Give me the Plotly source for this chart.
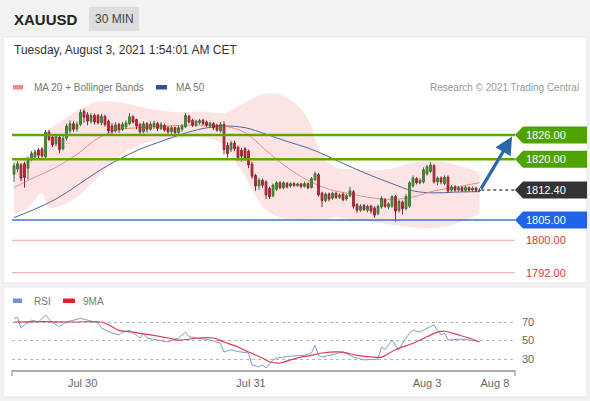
import plotly.graph_objects as go

W, H = 590, 401

# ---------------- DATA ----------------
candle_idx = list(range(134))
opens = [1816.3, 1817.6, 1818.6, 1818.9, 1817.8, 1820.0, 1820.6, 1822.3, 1822.5, 1820.6,
         1826.7, 1825.5, 1823.8, 1825.5, 1822.6, 1825.2, 1827.0, 1828.8, 1827.5, 1828.6,
         1831.8, 1831.0, 1829.4, 1830.9, 1830.8, 1829.0, 1830.6, 1829.4, 1828.2, 1827.0,
         1828.6, 1827.4, 1828.0, 1828.8, 1830.5, 1829.8, 1828.6, 1826.8, 1828.8, 1827.4,
         1828.0, 1828.8, 1827.6, 1828.4, 1827.8, 1826.8, 1827.8, 1826.6, 1827.4, 1828.0,
         1830.6, 1829.6, 1828.4, 1829.0, 1829.6, 1829.2, 1828.2, 1828.8, 1828.4, 1827.0,
         1828.6, 1823.4, 1822.4, 1824.0, 1823.0, 1822.2, 1822.6, 1822.0, 1818.8, 1816.0,
         1813.4, 1814.8, 1814.4, 1812.8, 1811.0, 1812.6, 1814.2, 1813.0, 1814.0, 1813.4,
         1814.0, 1813.5, 1813.9, 1813.3, 1814.0, 1813.0, 1815.0, 1816.2, 1811.6, 1809.8,
         1811.4, 1810.4, 1811.6, 1810.6, 1811.4, 1810.2, 1811.0, 1812.0, 1808.8, 1807.4,
         1808.6, 1807.4, 1808.4, 1808.0, 1806.6, 1808.2, 1810.0, 1808.2, 1808.4, 1810.8,
         1807.4, 1809.4, 1807.8, 1808.4, 1813.4, 1815.2, 1814.2, 1814.4, 1816.4, 1817.0,
         1818.4, 1814.4, 1815.4, 1814.0, 1815.6, 1812.4, 1813.2, 1812.4, 1813.0, 1812.3,
         1813.0, 1812.4, 1812.9, 1812.2]
highs = [1819.2, 1819.5, 1819.1, 1819.4, 1820.6, 1822.0, 1822.4, 1822.8, 1823.0, 1827.2,
         1827.3, 1826.0, 1826.2, 1826.0, 1825.8, 1828.8, 1829.6, 1829.4, 1829.3, 1832.3,
         1832.4, 1831.6, 1831.4, 1831.3, 1831.2, 1831.2, 1831.0, 1829.8, 1829.0, 1829.2,
         1829.0, 1829.2, 1829.6, 1831.4, 1830.9, 1830.0, 1829.0, 1829.4, 1829.2, 1829.3,
         1829.5, 1829.2, 1829.2, 1828.8, 1828.2, 1828.3, 1828.1, 1828.3, 1828.7, 1831.4,
         1831.0, 1830.0, 1829.8, 1830.0, 1830.0, 1829.6, 1829.3, 1829.2, 1828.8, 1829.2,
         1829.4, 1824.2, 1824.6, 1824.6, 1823.4, 1822.8, 1823.0, 1822.4, 1819.4, 1816.4,
         1815.4, 1815.2, 1814.8, 1813.2, 1814.0, 1814.6, 1814.6, 1814.6, 1814.4, 1814.3,
         1814.3, 1814.2, 1814.2, 1814.5, 1814.3, 1815.6, 1817.0, 1816.6, 1812.0, 1811.8,
         1811.8, 1812.0, 1812.0, 1811.6, 1811.8, 1811.4, 1813.2, 1812.4, 1809.2, 1808.9,
         1809.0, 1808.8, 1808.8, 1808.4, 1808.8, 1810.9, 1810.4, 1809.4, 1811.2, 1811.2,
         1810.0, 1809.8, 1811.4, 1814.6, 1816.0, 1815.6, 1815.4, 1818.0, 1818.6, 1819.3,
         1818.8, 1815.8, 1815.8, 1816.0, 1816.0, 1813.6, 1813.6, 1813.4, 1813.4, 1813.5,
         1813.3, 1813.3, 1813.2, 1812.9]
lows = [1814.4, 1816.8, 1814.6, 1813.0, 1815.0, 1819.5, 1820.0, 1820.2, 1820.4, 1820.0,
        1824.5, 1823.0, 1823.2, 1821.6, 1822.2, 1824.6, 1826.4, 1826.8, 1826.8, 1828.2,
        1829.0, 1828.4, 1828.8, 1828.6, 1828.6, 1828.4, 1828.0, 1826.4, 1826.2, 1826.6,
        1826.5, 1827.0, 1827.4, 1828.4, 1828.8, 1827.4, 1826.2, 1826.4, 1826.6, 1827.0,
        1827.5, 1827.0, 1827.2, 1826.8, 1826.2, 1826.3, 1826.0, 1826.2, 1826.8, 1827.8,
        1828.8, 1828.0, 1828.0, 1828.6, 1828.4, 1828.0, 1827.8, 1827.2, 1826.8, 1826.6,
        1821.2, 1820.4, 1821.8, 1822.0, 1819.6, 1819.4, 1819.6, 1817.8, 1815.2, 1812.2,
        1812.4, 1813.0, 1810.2, 1810.2, 1810.6, 1812.2, 1812.6, 1812.6, 1812.8, 1813.0,
        1813.2, 1813.2, 1812.8, 1813.0, 1812.6, 1812.8, 1814.6, 1810.8, 1808.2, 1809.4,
        1809.6, 1810.0, 1810.2, 1810.2, 1809.6, 1809.8, 1810.6, 1807.8, 1806.8, 1807.0,
        1807.2, 1806.9, 1806.6, 1805.6, 1806.2, 1807.8, 1808.0, 1807.6, 1808.0, 1804.6,
        1806.8, 1806.4, 1807.4, 1808.0, 1813.0, 1813.8, 1813.8, 1814.0, 1816.0, 1816.6,
        1814.0, 1813.6, 1813.8, 1813.6, 1811.8, 1812.0, 1812.0, 1812.0, 1811.9, 1812.0,
        1812.0, 1812.0, 1811.9, 1811.9]
closes = [1818.4, 1818.9, 1815.3, 1815.5, 1820.0, 1821.5, 1821.8, 1821.0, 1820.8, 1826.7,
          1824.9, 1823.6, 1825.6, 1822.4, 1825.2, 1828.2, 1828.8, 1827.4, 1828.6, 1831.6,
          1830.4, 1829.4, 1830.8, 1829.2, 1829.0, 1830.6, 1828.6, 1827.0, 1826.9, 1828.5,
          1827.4, 1828.6, 1829.0, 1830.5, 1829.2, 1828.2, 1826.8, 1828.8, 1827.4, 1828.7,
          1828.9, 1827.6, 1828.6, 1827.2, 1826.8, 1827.8, 1826.6, 1827.8, 1828.2, 1830.8,
          1829.2, 1828.4, 1829.4, 1829.6, 1828.8, 1828.4, 1828.9, 1827.8, 1827.2, 1828.6,
          1822.4, 1821.4, 1824.0, 1822.6, 1820.4, 1820.8, 1820.2, 1818.6, 1815.8, 1813.4,
          1814.8, 1813.6, 1811.2, 1810.8, 1813.6, 1814.2, 1813.0, 1814.2, 1813.2, 1814.0,
          1813.5, 1813.9, 1813.3, 1814.0, 1813.0, 1815.2, 1816.4, 1811.2, 1809.8, 1811.4,
          1810.2, 1811.6, 1810.6, 1811.2, 1810.0, 1811.0, 1812.2, 1808.4, 1807.4, 1808.4,
          1807.6, 1808.4, 1807.2, 1806.2, 1808.4, 1810.4, 1808.4, 1809.0, 1810.8, 1807.2,
          1809.6, 1807.8, 1810.8, 1814.2, 1815.4, 1814.2, 1814.8, 1817.4, 1818.2, 1818.6,
          1814.4, 1815.4, 1814.4, 1815.6, 1812.2, 1813.2, 1812.4, 1813.0, 1812.3, 1813.1,
          1812.4, 1812.9, 1812.3, 1812.4]

ma_idx = [0, 6, 12, 18, 24, 30, 36, 42, 48, 54, 60, 66, 72, 78, 84, 90, 96, 102, 108, 114, 120, 126, 133]
ma20 = [1813.0, 1815.6, 1818.0, 1821.2, 1825.2, 1827.3, 1827.8, 1828.1, 1828.4, 1828.4, 1828.2, 1826.6,
        1822.2, 1818.0, 1814.8, 1812.6, 1811.5, 1810.5, 1810.1, 1810.7, 1812.2, 1813.1, 1814.2]
ma50 = [1805.6, 1807.7, 1810.2, 1813.5, 1817.0, 1820.0, 1822.5, 1824.4, 1826.2, 1827.6, 1828.2, 1827.8,
        1826.2, 1824.4, 1822.8, 1820.6, 1818.2, 1816.0, 1814.0, 1812.2, 1811.7, 1811.9, 1812.0]

bb_idx = [0, 4, 8, 10, 14, 18, 24, 30, 36, 42, 48, 54, 60, 63, 66, 69, 72, 76, 80, 84, 88, 92, 96,
          102, 108, 114, 120, 126, 133]
bb_upper = [1820.2, 1821.0, 1822.6, 1827.4, 1829.6, 1832.0, 1834.2, 1834.0, 1833.0, 1832.0, 1831.6,
            1831.8, 1831.4, 1832.6, 1834.0, 1835.4, 1836.2, 1836.0, 1834.0, 1830.0, 1821.0, 1818.0,
            1817.6, 1817.2, 1817.8, 1819.2, 1819.6, 1818.8, 1816.8]
bb_lower = [1806.4, 1808.0, 1811.6, 1808.0, 1808.8, 1810.6, 1815.6, 1820.6, 1823.6, 1824.8, 1825.2,
            1825.4, 1823.6, 1819.6, 1816.0, 1811.0, 1807.4, 1805.6, 1805.0, 1805.0, 1805.2, 1805.6,
            1805.2, 1804.6, 1803.8, 1803.2, 1803.0, 1804.0, 1806.4]

rsi_idx = [0, 1, 2, 3, 5, 7, 9, 11, 13, 15, 19, 24, 25, 28, 30, 31, 33, 35, 36, 37, 38, 41, 44, 47,
           49, 50, 56, 59, 60, 62, 64, 67, 68, 70, 71, 72, 74, 75, 79, 83, 85, 86, 87, 88, 94, 97,
           98, 100, 104, 105, 106, 108, 109, 110, 111, 113, 114, 116, 119, 120, 121, 122, 123, 124,
           128, 133]
rsi = [74, 75, 63.5, 67, 72, 70, 77.5, 69, 65, 70, 74, 69, 63.5, 58, 56, 59, 61, 56, 52.7, 58, 52.7,
       50.5, 48.4, 52.7, 59, 54, 50.5, 47, 37.5, 40, 38, 36.5, 23.5, 21.5, 23.5, 20.3, 29, 31, 33, 34,
       36.5, 45, 34, 32, 37.6, 32, 31, 29, 30, 43, 40, 50.5, 45, 40, 47, 58, 61, 59, 65, 67, 61, 56,
       58, 50.5, 51.6, 49]
ma9_idx = [0, 9, 17, 25, 27, 30, 34, 39, 44, 47, 53, 57, 60, 64, 67, 71, 73, 76, 79, 82, 85, 88,
           93, 98, 103, 105, 109, 114, 118, 121, 123, 127, 130, 133]
rsi_ma9 = [70, 70.5, 70, 70, 67, 61, 59, 56, 52.7, 50.5, 52.7, 52.7, 48.4, 43, 37.6, 31, 27, 25.7,
           29, 32, 34, 36.5, 37.6, 34, 32, 32, 40, 47, 54, 59, 60, 56, 52.7, 48.4]

tick_pos = [19.6, 67.7, 118, 137.4]
tick_text = ["Jul 30", "Jul 31", "Aug 3", "Aug 8"]

levels_box = [1826.00, 1820.00, 1805.00]
levels_box_colors = ["#4fa300", "#4fa300", "#1f63e6"]
levels_red = [1800.00, 1792.00]
last_price = 1812.40
arrow_start = (133.2, 1812.4)
arrow_end = (142.3, 1825.6)

# ---------------- LAYOUT HELPERS ----------------
def px(x):
    return x / W


def py(y):
    return 1 - y / H

FONT = "Liberation Sans, Arial, sans-serif"
X_RANGE = [-0.571, 143.14]
XD = [px(12), px(515)]
YD = [py(282), py(88)]
PRICE_RANGE = [1789.70, 1837.60]
RSI_RANGE = [18.11, 93.78]

fig = go.Figure()

# Bollinger band fill + moving averages (base subplot)
fig.add_trace(go.Scatter(x=bb_idx, y=bb_lower, mode="lines", line=dict(width=0, shape="spline"),
                         hoverinfo="skip", showlegend=False))
fig.add_trace(go.Scatter(x=bb_idx, y=bb_upper, mode="lines", line=dict(width=0, shape="spline"),
                         fill="tonexty", fillcolor="#fde4e4", hoverinfo="skip", showlegend=False))
fig.add_trace(go.Scatter(x=ma_idx, y=ma50, mode="lines", line=dict(color="#4d679f", width=1, shape="spline"),
                         showlegend=False))
fig.add_trace(go.Scatter(x=ma_idx, y=ma20, mode="lines", line=dict(color="#ef8c8c", width=1, shape="spline"),
                         showlegend=False))
# candles on an overlaying axis pair so they sit above the band
fig.add_trace(go.Candlestick(
    x=candle_idx, open=opens, high=highs, low=lows, close=closes,
    increasing=dict(line=dict(color="#3b6f30", width=1), fillcolor="#4c9a3a"),
    decreasing=dict(line=dict(color="#8e2230", width=1), fillcolor="#d02a3e"),
    whiskerwidth=0, showlegend=False, xaxis="x3", yaxis="y3"))

# RSI panel
fig.add_trace(go.Scatter(x=rsi_idx, y=rsi, mode="lines", line=dict(color="#7d9dd2", width=1),
                         xaxis="x2", yaxis="y2", showlegend=False))
fig.add_trace(go.Scatter(x=ma9_idx, y=rsi_ma9, mode="lines", line=dict(color="#e33a55", width=1.2, shape="spline"),
                         xaxis="x2", yaxis="y2", showlegend=False))

shapes = []
# panels
shapes.append(dict(type="rect", xref="paper", yref="paper", x0=px(3), x1=px(587), y0=py(283), y1=py(37),
                   fillcolor="white", line=dict(color="#e6e6e6", width=1), layer="below"))
shapes.append(dict(type="rect", xref="paper", yref="paper", x0=px(3), x1=px(587), y0=py(397), y1=py(287),
                   fillcolor="white", line=dict(color="#e6e6e6", width=1), layer="below"))
# 30 MIN badge
shapes.append(dict(type="rect", xref="paper", yref="paper", x0=px(89), x1=px(139), y0=py(31), y1=py(7),
                   fillcolor="#dcdddf", line=dict(width=0), layer="below"))
# legend swatches
shapes.append(dict(type="rect", xref="paper", yref="paper", x0=px(13), x1=px(23), y0=py(89.5), y1=py(85),
                   fillcolor="#f08c8c", line=dict(width=0)))
shapes.append(dict(type="rect", xref="paper", yref="paper", x0=px(156), x1=px(167), y0=py(89.5), y1=py(85),
                   fillcolor="#2f5597", line=dict(width=0)))
shapes.append(dict(type="rect", xref="paper", yref="paper", x0=px(13), x1=px(22), y0=py(303), y1=py(298.5),
                   fillcolor="#6f92d6", line=dict(width=0)))
shapes.append(dict(type="rect", xref="paper", yref="paper", x0=px(63), x1=px(75), y0=py(303), y1=py(298.5),
                   fillcolor="#e8202e", line=dict(width=0)))

# level lines
for lv, col in zip(levels_box, levels_box_colors):
    w = 2.6 if col == "#4fa300" else 1.5
    lc = "#5aab00" if col == "#4fa300" else "#3a73d8"
    shapes.append(dict(type="line", xref="x domain", yref="y", x0=0, x1=1, y0=lv, y1=lv,
                       line=dict(color=lc, width=w), layer="above"))
for lv in levels_red:
    shapes.append(dict(type="line", xref="x domain", yref="y", x0=0, x1=1, y0=lv, y1=lv,
                       line=dict(color="#f0a3a3", width=1), layer="above"))
shapes.append(dict(type="line", xref="x", yref="y", x0=candle_idx[-1] + 0.5, x1=X_RANGE[1],
                   y0=last_price, y1=last_price, line=dict(color="#555555", width=1.5, dash="dot"), layer="above"))

# label boxes with pointer
box_levels = levels_box + [last_price]
box_colors = levels_box_colors + ["#333333"]
for lv, col in zip(box_levels, box_colors):
    shapes.append(dict(type="path", xref="paper", yref="y", xsizemode="pixel", ysizemode="pixel",
                       xanchor=XD[1], yanchor=lv, path="M0,0 L8,8.5 L72,8.5 L72,-8.5 L8,-8.5 Z",
                       fillcolor=col, line=dict(width=0), layer="above"))

# RSI axis end ticks
for xx in [0, 1]:
    shapes.append(dict(type="line", xref="x2 domain", yref="paper", x0=xx, x1=xx, y0=py(370), y1=py(376),
                       line=dict(color="#aaaaaa", width=1.5)))

annotations = []
for lv in box_levels:
    annotations.append(dict(xref="paper", yref="y", x=XD[1], y=lv, xanchor="left", yanchor="middle",
                            xshift=9, text=f"{lv:.2f}", showarrow=False,
                            font=dict(family=FONT, size=11, color="white")))
for lv in levels_red:
    annotations.append(dict(xref="paper", yref="y", x=XD[1], y=lv, xanchor="left", yanchor="middle",
                            xshift=9, text=f"{lv:.2f}", showarrow=False,
                            font=dict(family=FONT, size=11, color="#cf3a44")))

annotations.append(dict(xref="x", yref="y", x=arrow_end[0], y=arrow_end[1], ax=arrow_start[0], ay=arrow_start[1],
                        axref="x", ayref="y", text="", showarrow=True, arrowhead=2, arrowsize=1.1,
                        arrowwidth=3.2, arrowcolor="#2b65ab"))

def txt(x, y, s, size, color, anchor="left", bold=False):
    annotations.append(dict(xref="paper", yref="paper", x=px(x), y=py(y), xanchor=anchor, yanchor="middle",
                            text=s, showarrow=False,
                            font=dict(family=FONT, size=size, color=color, weight="bold" if bold else "normal")))

txt(12, 19, "XAUUSD", 15, "#222222", bold=True)
txt(114, 19, "30 MIN", 12, "#444444", anchor="center")
txt(12, 50, "Tuesday, August 3, 2021 1:54:01 AM CET", 12, "#333333")
txt(32, 87, "MA 20 + Bollinger Bands", 10, "#777777")
txt(174, 87, "MA 50", 10, "#777777")
txt(581, 87, "Research © 2021 Trading Central", 10, "#999999", anchor="right")
txt(32, 301, "RSI", 10, "#777777")
txt(81, 301, "9MA", 10, "#777777")

fig.update_layout(
    width=W, height=H, margin=dict(l=0, r=0, t=0, b=0),
    paper_bgcolor="#f2f2f2", plot_bgcolor="rgba(0,0,0,0)",
    showlegend=False, shapes=shapes, annotations=annotations,
    font=dict(family=FONT), hovermode=False,
    xaxis=dict(domain=XD, range=X_RANGE, visible=False, rangeslider=dict(visible=False), anchor="y"),
    yaxis=dict(domain=YD, range=PRICE_RANGE, visible=False, anchor="x"),
    xaxis3=dict(range=X_RANGE, visible=False, overlaying="x", anchor="y3", rangeslider=dict(visible=False)),
    yaxis3=dict(range=PRICE_RANGE, visible=False, overlaying="y", anchor="x3"),
    xaxis2=dict(domain=XD, range=X_RANGE, anchor="y2", showline=True, linecolor="#aaaaaa", linewidth=1.5,
                showgrid=False, zeroline=False, ticks="", tickvals=tick_pos, ticktext=tick_text,
                ticklabelstandoff=2, tickfont=dict(family=FONT, size=11, color="#666666")),
    yaxis2=dict(domain=[py(370), py(300)], range=RSI_RANGE, anchor="x2", side="right",
                tickvals=[30, 50, 70], showgrid=True, gridcolor="#b5b5b5", griddash="dot", gridwidth=1,
                zeroline=False, showline=False, ticks="", ticklabelstandoff=6,
                tickfont=dict(family=FONT, size=11, color="#666666")),
)

fig.write_html("out.html", config={"displayModeBar": False},
               post_script="document.body.style.margin='0';")
